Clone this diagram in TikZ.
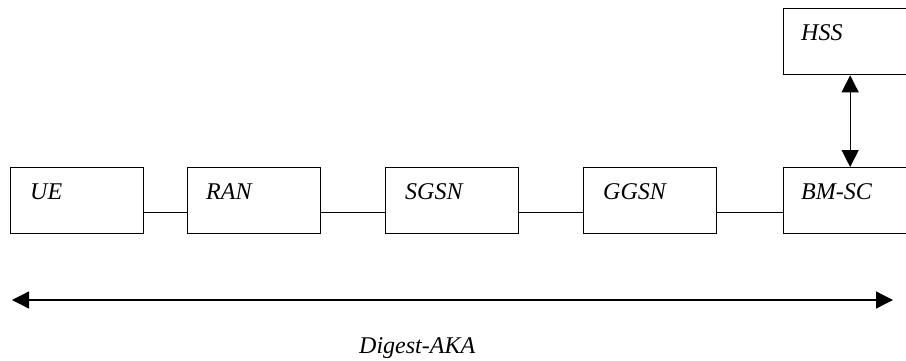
\documentclass[tikz,border=0pt]{standalone}
\usepackage{fontspec}
\setmainfont{Liberation Serif}
\usetikzlibrary{arrows.meta,calc,positioning}

\begin{document}
\begin{tikzpicture}[x=1pt,y=-1pt,
    netbox/.style={draw, line width=1.3pt, minimum width=133pt, minimum height=66pt,
                   anchor=north west, inner sep=0pt},
    boxlabel/.style={anchor=base west, inner sep=0pt, font=\fontsize{24}{28}\selectfont\itshape},
    link/.style={line width=1.3pt},
    biarrow/.style={line width=1.3pt, {Triangle[length=17pt,width=17pt]}-{Triangle[length=17pt,width=17pt]}}]

            % Page frame
            \useasboundingbox (0,0) rectangle (906,360);
            \clip (0,0) rectangle (906,360);

            % Network elements
            \node[netbox] (ue) at (10,167) {};
            \node[netbox] (ran) at (187,167) {};
            \node[netbox] (sgsn) at (385,167) {};
            \node[netbox] (ggsn) at (583,167) {};
            \node[netbox] (bmsc) at (783,167) {};
            \node[netbox] (hss) at (783,8) {};

            % Box labels (shifts are in page units, so down is negative)
            \node[boxlabel] (ue-l) at ([xshift=20pt,yshift=-32pt]ue.north west) {UE};
            \node[boxlabel] (ran-l) at ([xshift=19pt,yshift=-32pt]ran.north west) {RAN};
            \node[boxlabel] (sgsn-l) at ([xshift=20pt,yshift=-32pt]sgsn.north west) {SGSN};
            \node[boxlabel] (ggsn-l) at ([xshift=20pt,yshift=-32pt]ggsn.north west) {GGSN};
            \node[boxlabel] (bmsc-l) at ([xshift=18pt,yshift=-32pt]bmsc.north west) {BM-SC};
            \node[boxlabel] (hss-l) at ([xshift=18pt,yshift=-32pt]hss.north west) {HSS};

            % Links between elements
            \draw[link] ([yshift=-12pt]ue.east) -- ([yshift=-12pt]ran.west);
            \draw[link] ([yshift=-12pt]ran.east) -- ([yshift=-12pt]sgsn.west);
            \draw[link] ([yshift=-12pt]sgsn.east) -- ([yshift=-12pt]ggsn.west);
            \draw[link] ([yshift=-12pt]ggsn.east) -- ([yshift=-12pt]bmsc.west);

            % HSS <-> BM-SC
            \draw[biarrow] (hss.south) -- (bmsc.north);

            % End-to-end span
            \coordinate (span-l) at (12,300);
            \coordinate (span-r) at (893,300);
            \draw[biarrow] (span-l) -- (span-r);
            \node[boxlabel] (digest) at (359,353) {Digest-AKA};

\end{tikzpicture}
\end{document}
